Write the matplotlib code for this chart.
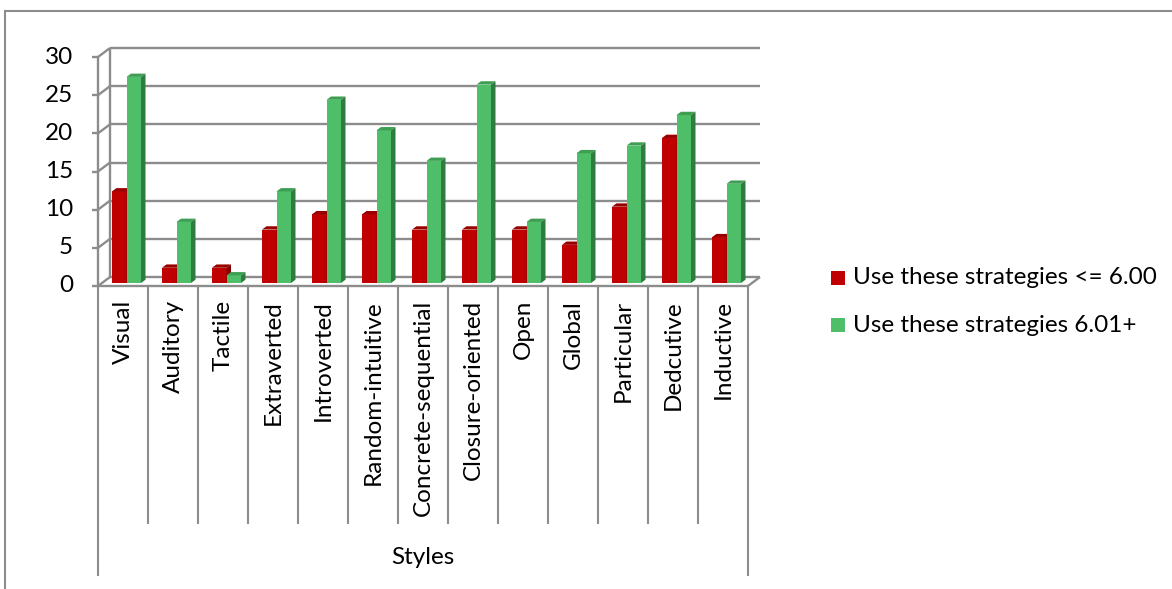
import numpy as np
import matplotlib
matplotlib.use("Agg")
import matplotlib.pyplot as plt
from matplotlib.patches import Polygon, Rectangle

plt.rcParams['font.family'] = ['Lato', 'DejaVu Sans']

# categorias e valores das duas series
estilos = ["Visual", "Auditory", "Tactile", "Extraverted", "Introverted",
           "Random-intuitive", "Concrete-sequential", "Closure-oriented",
           "Open", "Global", "Particular", "Dedcutive", "Inductive"]
ate_600 = [12, 2, 2, 7, 9, 9, 7, 7, 7, 5, 10, 19, 6]
acima_601 = [27, 8, 1, 12, 24, 20, 16, 26, 8, 17, 18, 22, 13]
serie_nomes = ["Use these strategies <= 6.00", "Use these strategies 6.01+"]
yticks = [0, 5, 10, 15, 20, 25, 30]
titulo_eixo = "Styles"

# cores: frente, topo, lado
cor_verm = ("#C00000", "#980000", "#840000")
cor_verde = ("#4FBE68", "#3E9E53", "#2E7C40")
cor_grade = "#8C8C8C"
fs = 17.5

W, H = 1172, 589
fig = plt.figure(figsize=(W / 100, H / 100), dpi=100)
# area do grafico (parede frontal) em pixels
x0, x1, yb, yt = 98, 748, 286, 57
ax = fig.add_axes([x0 / W, (H - yb) / H, (x1 - x0) / W, (yb - yt) / H])
n = len(estilos)
ax.set_xlim(0, n)
ax.set_ylim(0, 30)
ax.axis("off")

px_x = n / (x1 - x0)          # unidades por pixel (x)
px_y = 30 / (yb - yt)         # unidades por pixel (y)
dxw, dyw = 12 * px_x, 9 * px_y   # profundidade da parede

lk = dict(color=cor_grade, lw=1.7, clip_on=False, solid_capstyle="butt")

# parede do fundo e parede lateral
for v in yticks:
    ax.plot([dxw, n + dxw], [v + dyw, v + dyw], **lk)
    ax.plot([0, dxw], [v, v + dyw], **lk)
    ax.plot([-6 * px_x, 0], [v, v], **lk)
ax.plot([0, 0], [0, 30], **lk)
ax.plot([dxw, dxw], [dyw, 30 + dyw], **lk)
# piso
ax.plot([0, n], [0, 0], **lk)
ax.plot([n, n + dxw], [0, dyw], **lk)

# divisorias das categorias
fundo_cat = -(523 - yb) * px_y
fundo_grp = -(575 - yb) * px_y
for k in range(n + 1):
    fim = fundo_grp if k in (0, n) else fundo_cat
    ax.plot([k, k], [0, fim], color=cor_grade, lw=1.5, clip_on=False)

# barras 3D
fx, fy = 4 * px_x, 3 * px_y      # deslocamento da face frontal
ddx, ddy = 4.5 * px_x, 3.3 * px_y  # profundidade da barra
larg = 0.29
xs = np.arange(n)


def barra_3d(x, v, cores):
    ax.bar(x, v, width=larg, bottom=fy, align="edge", color=cores[0],
           linewidth=0, clip_on=False, zorder=3)
    topo = v + fy
    ax.add_patch(Polygon([(x, topo), (x + larg, topo),
                          (x + larg + ddx, topo + ddy), (x + ddx, topo + ddy)],
                         closed=True, fc=cores[1], lw=0, clip_on=False, zorder=3))
    ax.add_patch(Polygon([(x + larg, fy), (x + larg + ddx, fy + ddy),
                          (x + larg + ddx, topo + ddy), (x + larg, topo)],
                         closed=True, fc=cores[2], lw=0, clip_on=False, zorder=3))


for i in range(n):
    xr = xs[i] + fx + 0.2
    barra_3d(xr, ate_600[i], cor_verm)
    barra_3d(xr + larg, acima_601[i], cor_verde)

# rotulos do eixo y
for v in yticks:
    ax.text(-25 * px_x, v, str(v), ha="right", va="center", fontsize=fs,
            clip_on=False)

# rotulos das categorias
for i, nome in enumerate(estilos):
    ax.text(i + 0.5, -14 * px_y, nome, rotation=90, ha="center", va="top",
            fontsize=fs, clip_on=False)
ax.text(n / 2, -(558 - yb) * px_y, titulo_eixo, ha="center", va="center",
        fontsize=fs, clip_on=False)

# legenda
for j, (nome, cor) in enumerate(zip(serie_nomes, (cor_verm[0], cor_verde[0]))):
    yc = 1 - (278 + 47 * j) / H
    fig.patches.append(Rectangle((831 / W, yc - 7 / H), 14 / W, 14 / H,
                                 transform=fig.transFigure, fc=cor, lw=0))
    fig.text(853 / W, yc, nome, ha="left", va="center", fontsize=fs)

# moldura externa
fig.patches.append(Rectangle((5 / W, -0.1), 1.2, 1.1 - 11 / H,
                             transform=fig.transFigure, fill=False,
                             ec=cor_grade, lw=1.5))

fig.savefig("out.png", dpi=100)
